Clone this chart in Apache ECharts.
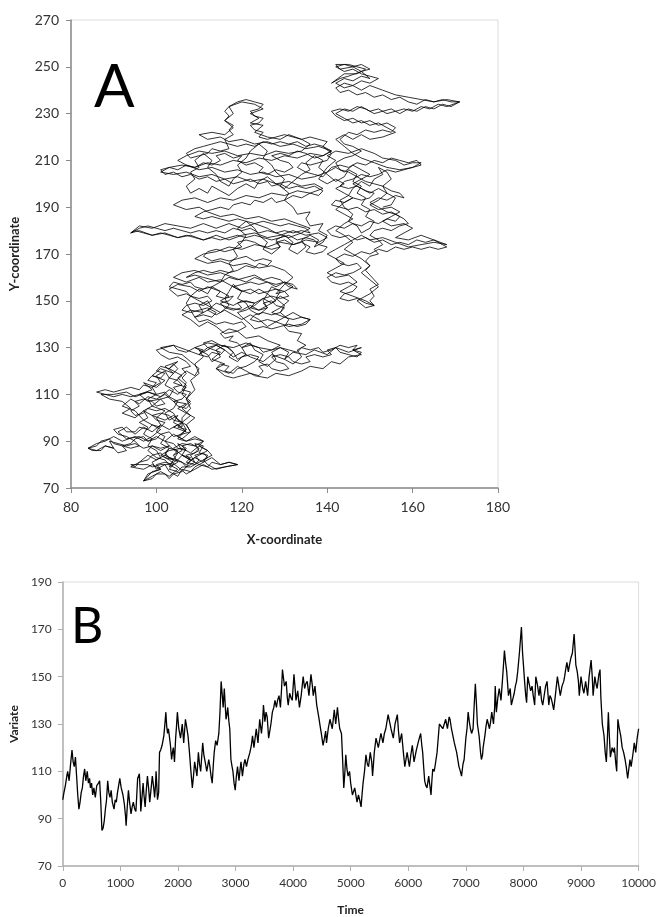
<!DOCTYPE html>
<html>
<head>
<meta charset="utf-8">
<title>Random walk</title>
<script src="https://cdn.jsdelivr.net/npm/echarts@6/dist/echarts.min.js"></script>
<style>
  html, body { margin: 0; padding: 0; background: #fff; }
  #chart { width: 659px; height: 917px; }
</style>
</head>
<body>
<div id="chart"></div>
<script>
// panel A: 2-D walk, read off the picture blob by blob (x, y)
// outward pass, bottom to top
const upBottom = [[104,84],[105,86],[103,87],[102,85],[103,83],[105,82],[106,84],[108,83],[107,81],[109,80],[110,82],[109,84],[111,85],[112,83],[110,81],[108,79],[106,79],[105,77],[103,78],[104,80],[102,81],[100,80],[101,78],[99,77],[98,75],[97,73],[99,74],[100,76],[102,76],[103,74],[104,76],[106,77],[107,79],[106,81],[104,82],[102,83],[101,85],[99,84],[98,82],[96,81],[95,79],[94,80],[96,80],[98,80],[99,79],[101,80],[103,80],[102,82],[100,83],[98,86],[99,88],[101,87],[103,88],[102,90],[104,89],[105,87],[107,86],[106,88],[108,89],[110,87],[109,85],[107,84],[108,82],[110,80],[112,79],[113,81],[115,80],[117,81],[119,80],[116,79],[114,78],[112,80],[111,82],[113,84],[112,86],[110,88],[111,90],[109,91],[107,90],[105,91],[106,93],[104,92],[103,94],[101,93]]
const upLeft = [[100,91],[98,90],[97,92],[95,91],[94,89],[92,88],[90,89],[89,91],[87,90],[86,88],[84,87],[85,86],[87,86],[88,88],[90,87],[91,85],[93,86],[92,88],[94,87],[96,88],[95,90],[93,92],[91,93],[90,95],[92,96],[93,94],[95,94],[96,96],[98,95],[99,97],[101,96],[102,98],[100,99],[99,101],[101,102],[103,101],[104,99],[106,98],[105,96],[107,95],[106,93],[108,94],[107,97],[105,99],[104,102],[102,104],[100,103],[98,104],[97,102],[95,101],[94,103],[96,105],[95,107],[97,108],[99,107],[100,105],[102,106],[101,108],[103,109],[102,111],[100,110],[98,111],[96,110],[94,109],[92,110],[90,109],[88,110],[86,111],[88,112],[90,111],[92,112],[94,113],[96,112],[97,114],[99,113],[100,115],[98,116],[99,118],[101,117],[102,119],[100,120],[101,122],[103,121],[104,123],[105,121],[104,119],[103,117],[105,116],[106,114],[104,113],[105,111],[107,110],[106,108],[104,107],[105,105],[107,104],[108,106],[107,108],[108,111],[106,112],[107,115],[106,117],[107,119],[106,121],[108,122]]
const upBand = [[107,124],[105,126],[103,125],[101,127],[100,129],[102,130],[104,131],[105,129],[107,128],[109,130],[111,129],[110,127],[112,126],[113,128],[115,127],[116,129],[114,131],[112,130],[111,132],[113,133],[115,131],[117,130],[118,128],[117,126],[119,124],[120,126],[122,127],[124,126],[123,124],[121,122],[119,121],[118,119],[116,120],[117,122],[115,123],[114,121],[116,118],[118,117],[120,118],[122,119],[124,118],[125,120],[124,122],[126,123],[127,121],[129,120],[131,121],[130,123],[128,124],[127,126],[129,127],[131,126],[132,124],[134,123],[136,124],[135,126],[137,127],[139,126],[141,127],[140,129],[142,130],[143,128],[145,127],[147,126],[148,128],[146,129],[147,131],[145,130],[143,131],[141,129],[139,128],[138,130],[136,129],[134,130],[133,128],[131,129],[129,130],[127,129],[125,128],[124,130],[122,131],[120,130],[119,132],[117,133],[118,135],[116,134]]
const upCentre = [[115,136],[117,138],[119,137],[121,139],[120,141],[118,140],[116,141],[114,140],[112,142],[110,141],[109,143],[111,144],[113,143],[114,145],[112,147],[110,146],[108,145],[106,146],[107,148],[109,149],[111,148],[113,150],[112,152],[110,151],[108,152],[107,154],[105,155],[103,156],[104,158],[106,157],[108,158],[109,156],[111,155],[113,156],[115,154],[114,152],[116,151],[118,152],[117,150],[115,149],[116,147],[118,146],[120,147],[119,149],[121,150],[123,149],[122,147],[124,146],[126,147],[125,149],[127,150],[128,148],[130,147],[129,145],[127,144],[125,145],[123,144],[122,142],[124,141],[126,142],[128,141],[130,143],[132,142],[134,143],[136,142],[135,140],[133,139],[131,140],[129,139],[127,138],[125,139],[123,138],[122,140],[120,143],[119,145],[121,146],[123,148],[125,151],[127,152],[129,151],[131,152],[130,154],[128,155],[126,154],[124,153],[122,155],[120,154],[118,156],[120,157],[122,158],[124,157],[126,158],[128,157],[130,158],[132,157],[133,155],[131,156],[129,159],[127,160],[125,159],[123,161],[121,160],[119,159],[117,160],[115,158],[113,159],[111,160],[109,161],[107,160],[109,162],[111,163],[113,162],[115,163],[117,162],[119,163]]
const upMiddleBand = [[121,165],[123,164],[124,166],[126,165],[127,167],[125,168],[123,167],[121,169],[119,168],[117,167],[115,168],[113,167],[111,169],[112,171],[114,172],[116,171],[118,172],[120,173],[119,175],[121,176],[123,175],[125,173],[127,172],[129,173],[128,175],[130,176],[132,174],[134,175],[136,173],[135,171],[137,170],[139,171],[140,173],[138,174],[137,176],[135,177],[133,176],[131,178],[129,177],[127,176],[125,177],[123,178],[121,177],[119,178],[117,177],[115,176],[113,177],[111,176],[109,177],[107,178],[105,177],[103,178],[101,179],[99,178],[97,179],[95,180],[94,179],[96,181],[98,182],[100,181],[102,180],[104,181],[106,180],[108,179],[110,180],[112,179],[114,180],[116,179],[118,181],[120,180],[122,181],[124,179],[126,180],[128,179],[130,180],[132,179],[134,180],[136,179],[135,181],[133,182],[131,183],[129,182],[127,183],[125,184],[123,183],[121,184],[119,185],[117,184],[115,185],[113,186],[111,185],[109,186],[111,188],[113,189]]
const upTop = [[115,190],[117,189],[118,191],[120,192],[122,191],[123,193],[125,192],[127,194],[128,192],[130,193],[132,195],[134,194],[136,196],[138,195],[139,197],[137,199],[135,198],[133,199],[131,198],[129,200],[127,199],[126,201],[124,200],[122,202],[120,201],[118,200],[116,202],[114,201],[112,203],[110,202],[108,204],[106,203],[104,205],[102,204],[101,206],[103,207],[105,206],[107,208],[109,207],[111,209],[113,208],[115,210],[114,212],[116,213],[118,211],[120,212],[119,210],[121,208],[123,209],[125,207],[124,205],[126,204],[128,206],[130,205],[132,207],[131,209],[129,210],[127,212],[129,213],[131,212],[133,214],[135,213],[137,211],[139,212],[141,214],[139,216],[137,217],[135,216],[133,218],[131,217],[129,218],[127,217],[125,218],[123,216],[121,217],[119,216],[117,217],[115,218],[113,217],[111,216],[109,215],[107,213],[108,211],[110,212],[112,213],[113,215],[115,214],[117,215],[116,219],[118,221],[117,223],[118,225],[116,227],[117,229],[116,231],[117,233],[119,235],[121,236],[123,235],[125,234],[124,232],[122,231],[123,229],[125,228],[124,226],[122,225],[123,223],[125,222],[124,220],[126,219],[128,220],[130,221],[132,220],[134,219],[136,220],[138,219],[140,218],[139,216],[141,213],[140,210],[138,209],[136,208],[134,209],[133,207],[135,205],[137,204],[139,203],[140,205],[141,207]]
const upRight = [[143,208],[145,207],[147,209],[149,208],[151,210],[153,209],[155,211],[157,210],[159,209],[161,210],[162,208],[160,207],[158,206],[156,205],[154,206],[152,204],[150,203],[148,204],[146,202],[144,201],[143,199],[145,198],[147,199],[149,197],[151,196],[150,194],[148,193],[146,194],[144,192],[142,193],[141,191],[143,190],[145,189],[147,190],[149,188],[151,189],[153,187],[155,188],[157,186],[156,184],[154,185],[152,183],[150,184],[148,182],[146,183],[144,181],[142,182],[140,180],[141,178],[143,177],[145,178],[147,176],[149,177],[151,175],[153,176],[155,174],[157,175],[159,174],[161,176],[163,175],[165,176],[167,174],[168,173],[166,172],[164,173],[162,172],[160,173],[158,172],[156,173],[154,171],[152,172],[150,170],[148,171],[146,169],[144,170],[142,168],[143,166],[145,165],[147,166],[148,164],[146,162],[144,161],[142,162],[140,160],[141,158],[143,157],[145,158],[147,156],[146,154],[144,153],[143,151],[145,150],[147,151],[149,149],[151,148],[150,150],[151,152],[150,155],[152,157],[151,159],[150,161],[149,163],[150,165],[149,167],[150,169],[152,170],[151,172],[153,174],[152,176],[150,178],[151,180],[153,181],[155,180],[157,182],[159,183],[158,185],[156,187],[154,188],[152,190],[150,192],[152,194],[154,193],[156,195],[158,194],[157,196],[155,197],[153,199],[151,200],[149,201],[147,203],[145,205],[143,206],[142,209],[144,211],[146,212],[148,214],[146,216],[144,217],[143,219]]
const upUpperRight = [[145,222],[147,221],[149,223],[151,222],[153,223],[155,222],[156,224],[154,226],[152,225],[150,227],[148,226],[146,228],[144,227],[142,229],[141,231],[143,232],[145,231],[147,233],[149,232],[151,230],[153,231],[155,232],[157,230],[159,232],[161,231],[163,233],[165,232],[167,234],[169,233],[171,235],[169,235],[167,236],[165,235],[163,236],[161,234],[159,235],[157,237],[155,236],[153,238],[151,237],[149,239],[147,238],[145,240],[143,239],[142,241],[144,243],[146,242],[148,244],[150,243],[152,245],[150,246],[148,247],[146,249],[144,248],[142,250],[144,251],[146,250],[148,251],[150,249],[148,248],[145,246],[143,245],[141,243]]
// return pass, top back down to the start region
const downUpperRight = [[144,247],[147,247],[149,249],[147,250],[145,251],[142,251],[143,249],[146,250],[148,248],[150,245],[148,246],[146,244],[144,245],[142,243],[144,241],[146,242],[148,240],[150,242],[153,240],[156,238],[159,237],[162,236],[165,235],[168,236],[171,235],[168,233],[166,234],[164,232],[162,233],[160,231],[158,232],[156,231],[154,230],[152,232],[150,231],[148,233],[146,231],[144,232],[142,230],[144,228],[146,226],[148,227],[150,225],[152,226],[154,224],[156,222],[153,220],[150,219],[148,221]]
const downRight = [[146,219],[144,221],[142,219],[144,216],[146,213],[148,211],[151,209],[154,207],[157,206],[160,207],[162,209],[160,209],[158,208],[156,210],[153,211],[151,213],[148,215],[145,213],[142,214],[140,212],[142,210],[140,207],[138,202],[140,200],[142,202],[144,200],[142,198],[144,196],[146,194],[144,192],[142,189],[144,187],[146,185],[144,183],[142,180],[144,178],[146,175],[144,172],[146,170],[148,168],[150,165],[148,162],[150,159],[152,156],[150,153],[147,150],[149,147],[151,148],[149,150],[146,152],[143,154],[145,156],[147,158],[145,161],[142,160],[140,162],[142,164],[144,166],[142,168],[140,170],[142,172],[144,174],[146,176],[148,178],[150,176],[153,177],[156,175],[159,173],[162,174],[165,175],[168,174],[165,176],[162,178],[159,176],[156,177],[158,179],[160,181],[158,183],[155,182],[153,184],[155,186],[157,188],[155,190],[152,189],[150,191],[152,193],[154,196],[152,198],[150,196],[148,198],[146,200],[148,202],[150,204],[148,206],[146,208],[144,205],[142,207],[140,205]]
const downTop = [[137,203],[134,202],[131,204],[128,203],[125,205],[122,204],[119,206],[116,205],[113,207],[110,206],[107,208],[105,210],[107,212],[110,214],[113,213],[116,214],[119,212],[122,213],[125,212],[128,214],[131,213],[134,214],[136,217],[134,219],[131,221],[129,219],[126,220],[123,222],[125,225],[122,226],[124,228],[122,230],[125,232],[123,234],[120,235],[117,233],[118,230],[116,227],[118,224],[116,221],[113,222],[110,221],[112,219],[115,220],[117,218],[120,219],[123,217],[126,218],[129,216],[132,217],[135,215],[138,216],[141,214],[139,212],[136,213],[133,211],[130,212],[127,210],[124,211],[121,209],[118,210],[115,208],[112,209],[109,207],[106,208],[103,207],[101,205],[104,204],[107,205],[110,203],[113,204],[116,202],[119,203],[122,201],[125,202],[128,200],[131,201],[134,199],[137,200],[139,198],[136,196],[133,197],[130,195],[127,196],[124,194],[121,195],[118,193],[115,194],[112,192],[109,194],[106,193],[104,191],[107,189],[110,190]]
const downMiddleBand = [[112,188],[115,186],[118,187],[121,185],[124,186],[127,184],[130,185],[133,183],[136,181],[134,179],[131,177],[128,179],[126,181],[123,183],[120,181],[117,183],[114,181],[111,183],[108,181],[105,182],[102,183],[99,181],[96,182],[94,179],[96,180],[99,178],[102,179],[105,177],[108,178],[111,176],[114,178],[117,176],[120,178],[123,179],[126,177],[129,178],[132,180],[135,178],[138,179],[140,177],[138,175],[135,176],[132,174],[129,175],[126,173],[123,174],[120,172],[117,173],[114,171],[111,170],[109,168],[112,166],[115,167],[118,165],[121,166],[124,164],[127,165],[130,163],[132,160],[130,157]]
const downCentre = [[128,153],[130,154],[132,156],[130,158],[128,156],[126,158],[123,160],[121,158],[118,160],[115,162],[112,161],[109,163],[106,162],[104,160],[107,158],[110,160],[112,158],[115,159],[117,157],[119,155],[122,153],[124,155],[126,153],[128,150],[126,148],[124,146],[122,148],[120,146],[117,147],[114,149],[112,146],[114,144],[116,146],[118,144],[120,142],[122,144],[124,142],[126,139],[128,141],[131,139],[134,140],[136,142],[134,143],[132,145],[130,143],[127,145],[129,147],[131,150],[129,152],[127,149],[125,151],[123,149],[120,150],[118,148],[115,150],[117,152],[115,154],[112,156],[110,154],[108,156],[105,157],[103,155],[105,152],[107,153],[109,151],[111,149],[113,147],[111,145],[108,146],[106,144],[108,142],[110,139],[112,141],[114,139],[116,136],[119,137],[121,134],[124,135]]
const downBand = [[126,133],[129,131],[127,129],[124,130],[121,132],[118,130],[115,131],[112,132],[109,130],[111,128],[114,131],[116,129],[118,126],[120,128],[122,126],[125,124],[127,127],[130,125],[132,128],[135,127],[137,129],[140,127],[142,130],[145,128],[148,130],[146,129],[148,127],[145,126],[143,123],[141,124],[139,121],[136,122],[134,120],[131,118],[128,119],[126,117],[123,118],[121,120],[119,122],[117,119],[114,121],[116,123],[113,125],[115,128],[112,130],[110,127],[107,129],[104,131],[101,130],[103,128],[106,127],[108,124],[110,121],[109,118],[107,120],[105,117],[107,114],[106,110],[108,107],[106,104],[108,101],[106,98],[107,95]]
const downBottom = [[105,92],[107,90],[109,92],[111,90],[109,88],[106,89],[104,87],[106,84],[108,82],[110,84],[112,86],[110,88],[108,85],[106,87],[103,86],[101,84],[103,82],[105,79],[107,76],[109,78],[111,80],[113,78],[116,79],[119,80],[117,81],[115,80],[113,83],[111,81],[109,83],[107,80],[105,82],[103,80],[105,78],[103,75],[101,77],[99,75],[97,73],[98,76],[101,78],[99,80],[97,78],[94,79],[96,81],[98,84],[100,82],[102,84],[104,82],[105,85],[103,88],[101,86],[99,88],[97,87],[95,89],[93,88],[91,89],[89,90],[90,87],[88,88],[86,86],[84,87],[86,89],[88,90],[90,92],[92,90],[95,92],[97,90],[99,92]]
const downMiddle = [[101,95],[99,97],[97,99],[95,103],[92,105],[94,108],[96,106],[98,109],[100,108],[102,110],[104,107],[107,106],[105,104],[107,102],[109,100],[107,97],[108,94],[106,91],[104,93],[102,90],[100,92],[98,90],[96,92],[93,91],[91,94],[93,96],[95,93],[97,96],[99,94],[101,97],[103,95],[105,97],[107,94],[104,96],[106,98],[104,101],[102,99],[99,101],[97,103],[95,100],[92,102],[94,104],[92,107],[89,108],[87,110],[90,110],[93,111],[95,109],[98,111],[101,109],[103,112],[105,110],[107,113],[104,115],[106,118],[103,121],[105,124],[102,122],[104,119],[101,121],[99,118],[102,116],[100,113],[97,115],[99,112],[96,110],[98,107],[101,108],[99,105],[102,103],[100,100]]
// last pass, mostly up-and-down wandering through the dense parts
const crossBottom = [[101,97],[100,94],[102,92],[101,89],[103,87],[102,84],[104,82],[103,79],[105,81],[104,84],[106,86],[105,89],[107,87],[106,84],[108,82],[107,79],[109,81],[108,84],[110,86],[109,89],[111,88],[110,85],[112,84],[111,81],[109,79],[108,77],[106,78],[105,75],[103,77],[102,80],[100,78],[99,81],[101,83],[100,86],[98,88],[99,91],[97,93],[98,96],[96,98],[98,100],[97,103],[99,105],[98,108],[100,110],[99,113],[101,115],[100,118],[102,120],[103,117],[102,114],[104,112],[103,109],[105,107],[104,104],[102,102],[103,99],[105,101],[104,98],[106,96]]
const crossMiddle = [[106,100],[108,104],[107,108],[109,112],[108,116],[110,119],[109,123],[111,126],[110,129],[112,127],[113,124],[115,126],[114,129],[116,131],[118,128],[119,125],[121,127],[120,130],[122,132],[123,129],[125,127],[124,124],[126,122],[128,125],[127,128],[129,130],[131,128],[130,125],[132,123],[134,126],[133,129],[135,131],[133,133],[134,136],[131,137],[130,139],[131,142],[129,145],[130,148],[128,151],[129,154],[127,156],[126,153],[125,150],[126,147],[124,144],[122,146],[121,149],[119,151],[120,154],[118,157],[117,154],[116,151],[117,148],[115,145],[113,147],[112,150],[110,148],[111,145],[109,143],[108,146],[107,149],[108,152],[110,155],[112,153],[113,156],[115,158],[116,161],[118,163],[117,166],[119,169],[118,172],[120,175],[121,178],[119,181],[121,184],[123,181],[124,178],[126,175],[125,172],[127,170],[129,173],[128,176],[130,178],[132,175],[131,172],[133,170],[135,173],[134,176],[136,178],[138,176],[137,173],[139,175],[140,178],[138,180],[139,183],[136,182],[135,185],[136,188],[133,187],[132,190]]
const crossTop = [[130,193],[131,196],[129,199],[130,202],[128,205],[127,208],[125,211],[126,214],[124,217],[122,214],[121,211],[119,208],[120,205],[118,202],[117,199],[115,201],[114,204],[112,207],[113,210],[111,213],[109,210],[110,207],[108,205],[109,202],[107,199],[108,196],[110,198],[112,196],[113,199],[115,197],[117,195],[119,198],[121,200],[123,198],[124,201],[126,203],[128,200],[130,198],[132,201],[134,204],[136,206],[135,209],[137,212],[139,210],[138,207],[140,204],[142,201],[144,203],[145,206],[147,204],[146,201],[148,199],[147,196],[149,194],[148,191],[150,189],[149,186],[151,184],[150,181],[148,179],[147,182],[145,184],[146,187],[144,190],[143,193],[145,195],[146,198],[148,201],[150,199],[151,202],[153,204],[152,207],[154,205],[155,202],[153,199],[154,196],[156,194],[155,191],[153,190]]

// panel B: variate against time (time, value)
const seriesB1 = [[0,98],[20,101],[45,104],[70,108],[85,110],[110,106],[135,113],[160,119],[180,114],[200,112],[220,116],[240,108],[260,100],[280,94],[300,97],[320,101],[340,103],[360,108],[380,111],[400,106],[425,110],[445,105],[465,107],[480,103],[500,105],[520,100],[540,103],[565,99],[590,104],[620,105],[640,106],[660,97],[680,85],[700,86],[720,89],[740,94],[760,98],[780,106],[800,101],[820,99],[840,102],[860,97],[890,94],[910,98],[930,97],[950,101],[970,104],[990,107],[1015,103],[1045,100],[1070,96],[1090,91],[1100,87],[1120,95],[1140,102],[1160,97],[1185,92],[1205,95],[1225,97],[1250,94],[1270,93],[1285,100],[1300,107],[1330,109],[1345,101],[1355,93],[1375,99],[1395,105],[1410,100],[1430,95],[1450,102],[1470,108],[1490,103],[1510,97],[1535,103],[1555,108],[1575,104],[1595,99],[1610,104],[1620,110],[1635,103],[1645,98],[1665,101],[1680,118],[1700,119],[1725,121],[1740,123],[1755,125],[1770,129],[1790,135],[1805,129],[1820,126],[1835,128],[1850,128],[1870,121],[1890,115],[1905,118],[1920,120],[1940,114],[1960,124],[1975,129],[1990,135]]
const seriesB2 = [[2015,128],[2030,126],[2045,124],[2060,127],[2075,130],[2100,122],[2130,132],[2150,129],[2175,125],[2200,118],[2225,110],[2250,103],[2270,108],[2290,114],[2310,111],[2330,108],[2355,118],[2375,113],[2395,110],[2415,117],[2430,122],[2450,117],[2480,113],[2500,110],[2515,112],[2535,115],[2555,112],[2575,108],[2595,105],[2615,113],[2630,118],[2655,123],[2680,121],[2710,126],[2730,135],[2750,148],[2770,142],[2785,137],[2805,145],[2835,132],[2850,134],[2865,137],[2885,131],[2900,128],[2920,115],[2940,112],[2955,110],[2975,105],[2995,102],[3015,108],[3035,112],[3060,106],[3080,111],[3095,114],[3120,108],[3145,113],[3165,115],[3190,112],[3215,115],[3250,118],[3275,121],[3295,125],[3320,120],[3340,124],[3360,128],[3390,122],[3420,132],[3450,126],[3470,131],[3485,138],[3510,131],[3530,135],[3550,133],[3575,124],[3595,127],[3615,130],[3640,135],[3665,137],[3685,140],[3710,137],[3730,140],[3755,142],[3780,137],[3800,145],[3815,153],[3835,149],[3850,146],[3880,148],[3900,141],[3915,138],[3940,143],[3965,141],[3985,140]]
const seriesB3 = [[4015,151],[4035,145],[4050,140],[4080,144],[4110,137],[4140,142],[4175,150],[4200,145],[4220,147],[4245,148],[4275,142],[4310,151],[4335,146],[4350,142],[4380,146],[4410,138],[4445,133],[4470,129],[4490,126],[4520,121],[4545,124],[4565,127],[4580,122],[4610,128],[4640,132],[4680,128],[4715,136],[4740,130],[4770,137],[4790,132],[4810,128],[4840,126],[4860,115],[4880,103],[4900,110],[4915,117],[4935,111],[4955,108],[4980,110],[5000,105],[5030,100],[5070,103],[5110,97],[5135,100],[5155,98],[5180,95],[5200,101],[5215,105],[5240,110],[5265,117],[5290,113],[5310,112],[5340,118],[5365,114],[5380,108],[5410,118],[5440,124],[5480,120],[5510,124],[5525,126],[5560,122],[5585,126],[5610,128],[5650,134],[5675,131],[5700,128],[5740,124],[5770,130],[5810,134],[5830,127],[5850,122],[5885,126],[5915,118],[5940,112],[5960,115],[5980,118]]
const seriesB4 = [[6020,112],[6045,117],[6070,121],[6100,114],[6140,119],[6180,123],[6215,126],[6235,121],[6250,118],[6270,111],[6285,106],[6305,104],[6325,103],[6355,108],[6375,104],[6395,100],[6410,106],[6425,111],[6450,110],[6470,113],[6500,118],[6520,124],[6540,130],[6570,130],[6600,128],[6625,130],[6650,132],[6680,128],[6710,133],[6725,132],[6750,128],[6800,122],[6840,118],[6880,112],[6905,110],[6925,108],[6950,113],[6970,115],[7000,124],[7020,128],[7040,135],[7060,131],[7080,128],[7100,126],[7125,128],[7145,138],[7165,147],[7185,138],[7200,130],[7230,125],[7255,118],[7270,115],[7290,117],[7300,120],[7330,125],[7350,129],[7370,132],[7390,130],[7410,128],[7430,131],[7450,135],[7480,130],[7500,137],[7510,146],[7530,135],[7555,141],[7580,145],[7610,140],[7640,150],[7670,161],[7690,156],[7710,152],[7740,142],[7770,145],[7790,138],[7810,140],[7840,143],[7860,146],[7880,148],[7900,152],[7930,160],[7965,171],[7985,160],[8000,155]]
const seriesB5 = [[8020,148],[8040,142],[8055,139],[8075,150],[8100,147],[8125,144],[8150,146],[8170,142],[8195,138],[8215,150],[8240,147],[8270,142],[8290,146],[8315,140],[8335,138],[8360,142],[8385,146],[8410,148],[8440,138],[8460,142],[8480,141],[8500,139],[8525,136],[8545,140],[8560,140],[8590,150],[8615,146],[8640,142],[8670,146],[8700,148],[8715,150],[8740,154],[8755,156],[8780,152],[8800,155],[8825,158],[8850,160],[8880,168],[8895,162],[8910,155],[8935,152],[8955,148],[8970,142],[9000,150],[9030,145],[9050,143],[9080,148],[9115,142],[9140,150],[9175,157],[9195,150],[9210,142],[9240,150],[9260,147],[9280,145],[9310,151],[9330,153],[9345,141],[9370,130],[9400,125],[9420,118],[9440,114],[9455,122],[9475,135],[9490,126],[9510,116],[9540,120],[9565,118],[9580,120],[9605,113],[9620,110],[9640,132],[9665,128],[9690,125],[9715,120],[9740,118],[9765,115],[9785,112],[9810,107],[9830,111],[9850,115],[9870,112],[9900,117],[9925,122],[9950,118],[9975,124],[10000,128]]

const walkA = [].concat(
  upBottom, upLeft, upBand, upCentre, upMiddleBand, upTop, upRight, upUpperRight,
  downUpperRight, downRight, downTop, downMiddleBand, downCentre, downBand, downBottom, downMiddle,
  crossBottom, crossMiddle, crossTop
)
const seriesB = [].concat(seriesB1, seriesB2, seriesB3, seriesB4, seriesB5)

const FONT = 'Lato, "Open Sans", sans-serif'

function axisStyle(color) {
  return {
    axisLine: { show: true, onZero: false, lineStyle: { color: color, width: 1.5 } },
    axisTick: { show: true, length: 5, lineStyle: { color: color, width: 1 } },
    splitLine: { show: false }
  }
}

const chart = echarts.init(document.getElementById('chart'))
chart.setOption({
  animation: false,
  backgroundColor: '#fff',
  textStyle: { fontFamily: FONT },
  grid: [
    { left: 67, right: 161, top: 20, bottom: 429, show: true, borderColor: '#dcdcdc', borderWidth: 1 },
    { left: 55, right: 20, top: 582, bottom: 43, show: true, borderColor: '#dcdcdc', borderWidth: 1 }
  ],
  xAxis: [
    Object.assign({
      type: 'value', gridIndex: 0, min: 80, max: 180, interval: 20,
      axisLabel: { fontSize: 14, color: '#333', margin: 12, fontFamily: FONT },
      name: 'X-coordinate', nameLocation: 'middle', nameGap: 45,
      nameTextStyle: { fontSize: 13, fontWeight: 'bold', color: '#222', fontFamily: FONT }
    }, axisStyle('#8a8a8a')),
    Object.assign({
      type: 'value', gridIndex: 1, min: 0, max: 10000, interval: 1000,
      axisLabel: { fontSize: 12, color: '#333', margin: 11, fontFamily: FONT, formatter: v => String(v) },
      name: 'Time', nameLocation: 'middle', nameGap: 38,
      nameTextStyle: { fontSize: 12, fontWeight: 'bold', color: '#222', fontFamily: FONT }
    }, axisStyle('#b0b0b0'))
  ],
  yAxis: [
    Object.assign({
      type: 'value', gridIndex: 0, min: 70, max: 270, interval: 20,
      axisLabel: { fontSize: 14, color: '#333', margin: 12, fontFamily: FONT },
      name: 'Y-coordinate', nameLocation: 'middle', nameGap: 50,
      nameTextStyle: { fontSize: 13, fontWeight: 'bold', color: '#222', fontFamily: FONT }
    }, axisStyle('#8a8a8a')),
    Object.assign({
      type: 'value', gridIndex: 1, min: 70, max: 190, interval: 20,
      axisLabel: { fontSize: 12, color: '#333', margin: 11, fontFamily: FONT },
      name: 'Variate', nameLocation: 'middle', nameGap: 42,
      nameTextStyle: { fontSize: 12, fontWeight: 'bold', color: '#222', fontFamily: FONT }
    }, axisStyle('#b0b0b0'))
  ],
  graphic: [
    { type: 'text', left: 94, top: 58, style: { text: 'A', fontSize: 60, fontFamily: FONT, fill: '#000' } },
    { type: 'text', left: 71, top: 602, style: { text: 'B', fontSize: 50, fontFamily: FONT, fill: '#000' } }
  ],
  series: [
    {
      type: 'line', xAxisIndex: 0, yAxisIndex: 0, data: walkA,
      showSymbol: false, symbol: 'none', sampling: 'none',
      lineStyle: { color: '#000', width: 0.8 }
    },
    {
      type: 'line', xAxisIndex: 1, yAxisIndex: 1, data: seriesB,
      showSymbol: false, symbol: 'none',
      lineStyle: { color: '#000', width: 1.3 }
    }
  ]
})
</script>
</body>
</html>
